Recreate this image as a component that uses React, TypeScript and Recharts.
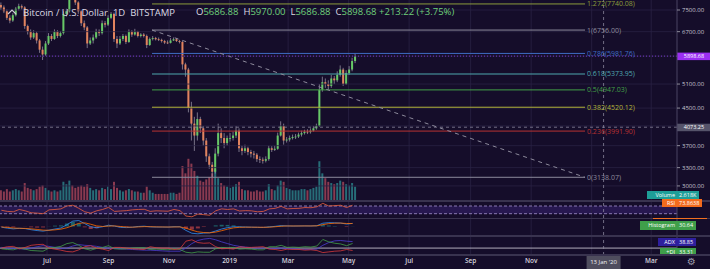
import React from 'react';
import {
  ComposedChart, Bar, Line, XAxis, YAxis, ReferenceLine, ReferenceArea, Cell
} from 'recharts';

// days are counted from 1 Jul 2018; first candle is 16 May 2018
const FIRST_DAY = -46;
const CANDLE_STEP = 3;
const IND_STEP = 6;
const DOMAIN: [number, number] = [-47.4, 635];

const firstOpen = 7700;
const closes = [
  7600, 7450, 7200, 7100, 7300, 7550, 7650, 7600, 6900, 6700,
  6500, 6650, 6400, 6100, 5950, 6300, 6550, 6450, 6700, 6550,
  6650, 7350, 7450, 8200, 8100, 7800, 7450, 7000, 6850, 6300,
  6400, 6500, 6700, 6650, 7000, 6950, 7200, 7350, 6450, 6300,
  6450, 6550, 6350, 6700, 6600, 6700, 6550, 6600, 6550, 6250,
  6450, 6480, 6440, 6420, 6380, 6330, 6320, 6400, 6440, 6380,
  6350, 5650, 5500, 4500, 4150, 3900, 4250, 4050, 3800, 3500,
  3350, 3230, 3550, 3950, 3850, 3750, 3850, 3850, 3900, 4000,
  3650, 3600, 3650, 3580, 3550, 3530, 3450, 3440, 3420, 3450,
  3650, 3620, 3640, 3900, 4100, 3800, 3820, 3850, 3870, 3880,
  3920, 3950, 3980, 3970, 4000, 4050, 4100, 4950, 5150, 5100,
  5050, 5250, 5200, 5350, 5500, 5100, 5400, 5500, 5750, 5898.68
];
const highs = [
  7800, 7680, 7520, 7300, 7380, 7620, 7750, 7720, 7650, 6950,
  6780, 6750, 6700, 6450, 6200, 6380, 6650, 6620, 6780, 6750,
  6720, 7450, 7550, 8450, 8350, 8200, 7850, 7500, 7100, 6900,
  6500, 6600, 6800, 6780, 7100, 7080, 7300, 7420, 7400, 6550,
  6550, 6620, 6600, 6780, 6750, 6800, 6730, 6650, 6650, 6600,
  6500, 6550, 6520, 6500, 6460, 6420, 6400, 6480, 6500, 6480,
  6420, 6380, 5700, 5550, 4650, 4300, 4400, 4300, 4100, 3850,
  3550, 3400, 3650, 4150, 4050, 3950, 3900, 3950, 3980, 4100,
  4050, 3700, 3720, 3680, 3620, 3600, 3560, 3500, 3480, 3500,
  3700, 3690, 3700, 3960, 4200, 4150, 3870, 3900, 3920, 3930,
  3960, 4000, 4020, 4030, 4050, 4100, 4150, 5100, 5300, 5250,
  5200, 5350, 5320, 5450, 5620, 5550, 5480, 5600, 5850, 5970
];
const lows = [
  7500, 7380, 7120, 7000, 7050, 7250, 7480, 7520, 6800, 6600,
  6420, 6450, 6300, 6000, 5780, 5900, 6250, 6380, 6420, 6480,
  6500, 6600, 7250, 7400, 7950, 7700, 7350, 6900, 6750, 6150,
  6250, 6300, 6450, 6550, 6600, 6850, 6900, 7150, 6350, 6150,
  6250, 6380, 6280, 6320, 6520, 6560, 6500, 6500, 6500, 6150,
  6220, 6400, 6400, 6380, 6330, 6280, 6280, 6300, 6380, 6350,
  6300, 5500, 5300, 4400, 3800, 3600, 3800, 3950, 3700, 3400,
  3280, 3140, 3200, 3500, 3750, 3650, 3700, 3780, 3800, 3850,
  3580, 3520, 3560, 3520, 3480, 3460, 3400, 3380, 3370, 3390,
  3420, 3580, 3600, 3620, 3880, 3720, 3760, 3780, 3820, 3830,
  3850, 3880, 3920, 3930, 3940, 3980, 4020, 4080, 4900, 5000,
  4950, 5000, 5100, 5150, 5300, 5050, 5080, 5350, 5450, 5686.88
];
const volumes = [
  8, 7, 9, 7, 8, 9, 8, 7, 14, 10,
  9, 8, 9, 11, 12, 10, 8, 7, 8, 7,
  8, 15, 13, 16, 12, 10, 11, 12, 11, 13,
  10, 8, 9, 8, 10, 9, 11, 9, 15, 10,
  8, 7, 8, 9, 8, 7, 7, 6, 6, 11,
  8, 6, 5, 5, 5, 5, 5, 6, 6, 5,
  6, 28, 22, 34, 30, 24, 20, 16, 15, 17,
  19, 22, 25, 18, 14, 12, 11, 10, 11, 13,
  15, 9, 8, 8, 7, 7, 8, 7, 7, 8,
  13, 9, 8, 12, 16, 15, 10, 9, 8, 8,
  8, 9, 9, 8, 9, 10, 11, 32, 22, 18,
  15, 14, 13, 14, 16, 15, 13, 12, 14, 11
];

const rsi = [
  48, 42, 40, 52, 45, 35, 33, 30, 50, 52,
  55, 70, 74, 58, 40, 33, 45, 52, 63, 42,
  44, 46, 50, 52, 53, 42, 45, 44, 43, 52,
  46, 18, 14, 28, 25, 22, 45, 55, 52, 55,
  44, 46, 45, 40, 42, 55, 58, 68, 55, 57,
  58, 62, 61, 66, 84, 70, 72, 74, 62, 73.86
];
const macd = [
  -50, -120, -170, -130, -150, -230, -290, -330, -260, -180,
  -110, 120, 380, 420, 200, -20, -90, -20, 90, 30,
  -60, -80, -50, 0, 20, -30, -40, -40, -45, -20,
  -20, -280, -480, -520, -470, -450, -320, -180, -80, -20,
  -30, -40, -50, -60, -70, -30, 10, 60, 40, 30,
  35, 40, 35, 55, 230, 270, 260, 240, 170, 220
];
const macdSignal = [
  -30, -70, -110, -130, -140, -170, -210, -260, -270, -240,
  -190, -90, 60, 220, 260, 160, 40, 0, 30, 40,
  0, -40, -50, -30, -10, -15, -30, -35, -40, -35,
  -30, -120, -260, -380, -430, -450, -400, -300, -190, -100,
  -60, -50, -50, -55, -60, -50, -20, 20, 35, 35,
  35, 38, 37, 45, 130, 200, 230, 240, 210, 210
];
const macdHist = [
  -20, -50, -60, 0, -10, -60, -80, -70, 10, 60,
  80, 210, 320, 200, -60, -180, -130, -20, 60, -10,
  -60, -40, 0, 30, 30, -15, -10, -5, -5, 15,
  10, -160, -220, -140, -40, 0, 80, 120, 110, 80,
  30, 10, 0, -5, -10, 20, 30, 40, 5, -5,
  0, 2, -2, 10, 100, 70, 30, 0, -40, 10
];
const adx = [
  22, 20, 19, 18, 17, 20, 24, 27, 25, 22,
  19, 20, 26, 30, 28, 27, 25, 22, 20, 19,
  18, 17, 16, 15, 14, 14, 13, 12, 11, 11,
  11, 20, 33, 42, 46, 48, 44, 38, 33, 28,
  25, 23, 21, 20, 20, 19, 19, 20, 19, 18,
  17, 16, 16, 17, 28, 36, 41, 42, 40, 38.85
];
const plusDI = [
  18, 16, 15, 20, 17, 13, 12, 11, 20, 22,
  25, 33, 36, 28, 18, 14, 19, 22, 27, 18,
  17, 18, 20, 21, 21, 16, 17, 16, 15, 18,
  16, 8, 6, 9, 8, 8, 18, 22, 20, 22,
  17, 18, 17, 15, 15, 24, 24, 28, 22, 23,
  22, 24, 23, 26, 45, 38, 34, 32, 27, 33.31
];
const minusDI = [
  20, 24, 25, 18, 22, 28, 30, 31, 20, 17,
  14, 10, 9, 15, 24, 27, 20, 17, 13, 22,
  22, 20, 18, 17, 16, 24, 21, 20, 20, 16,
  18, 40, 44, 36, 34, 35, 24, 18, 19, 17,
  24, 22, 22, 23, 24, 17, 16, 13, 17, 16,
  16, 14, 15, 13, 7, 9, 11, 12, 16, 13
];

// the 2020 label sits under the crosshair date box, so it is left out
const monthTicks = [0, 62, 123, 184, 243, 304, 365, 427, 488, 609];
const monthLabels = ['Jul', 'Sep', 'Nov', '2019', 'Mar', 'May', 'Jul', 'Sep', 'Nov', 'Mar'];
const gridDays = [0, 62, 123, 184, 243, 304, 365, 427, 488, 549, 609];
const priceTicks = [3000, 3300, 3700, 4500, 5100, 6700, 7500];
const priceGrid = [3000, 3300, 3700, 4100, 4500, 5100, 5900, 6700, 7500];

const fibLevels = [
  { ratio: '1.272', price: 7740.08, color: '#8c9c3c' },
  { ratio: '1', price: 6756.0, color: '#8d8a9c' },
  { ratio: '0.786', price: 5981.76, color: '#3e6cc2' },
  { ratio: '0.618', price: 5373.95, color: '#4fa8ae' },
  { ratio: '0.5', price: 4947.03, color: '#43a047' },
  { ratio: '0.382', price: 4520.12, color: '#b3b33a' },
  { ratio: '0.236', price: 3991.9, color: '#b83232' },
  { ratio: '0', price: 3138.07, color: '#8d8a9c' }
];
const FIB_START = 105.8;
const FIB_END = 542.3;
const CROSS_DAY = 561;
const CROSS_PRICE = 4073.25;
const LAST_PRICE = 5898.68;

const BG = '#150d2a';
const GRID = '#2a2244';
const AXIS = '#4a4462';
const UP = '#66c966';
const DOWN = '#e2835e';
const WICK = '#a59fb0';
const FONT = '"Open Sans", "DejaVu Sans", sans-serif';

const candles = closes.map((close, i) => {
  const open = i === 0 ? firstOpen : closes[i - 1];
  return {
    day: FIRST_DAY + i * CANDLE_STEP,
    open,
    close,
    high: highs[i],
    low: lows[i],
    range: [lows[i], highs[i]],
    volume: volumes[i],
    up: close >= open
  };
});

const indicators = rsi.map((v, i) => ({
  day: FIRST_DAY + i * IND_STEP,
  rsi: v,
  macd: macd[i],
  signal: macdSignal[i],
  hist: macdHist[i],
  adx: adx[i],
  plusDI: plusDI[i],
  minusDI: minusDI[i]
}));

const CandleShape = (props: any) => {
  const { x, y, width, height, payload } = props;
  if (!payload || !isFinite(y) || !isFinite(height)) return null;
  const { open, close, high, low } = payload;
  const span = Math.log(high) - Math.log(low);
  const py = (v: number) => y + (height * (Math.log(high) - Math.log(v))) / span;
  const top = py(Math.max(open, close));
  const bottom = py(Math.min(open, close));
  const cx = x + width / 2;
  return (
    <g>
      <line x1={cx} x2={cx} y1={y} y2={y + height} stroke={WICK} strokeWidth={0.7} />
      <rect x={x} y={top} width={width} height={Math.max(bottom - top, 0.8)}
        fill={payload.up ? UP : DOWN} />
    </g>
  );
};

const axisBadge = (text: string, bg: string) => (props: any) => {
  const { viewBox } = props;
  const x = viewBox.x + viewBox.width;
  const y = viewBox.y;
  return (
    <g>
      <rect x={x} y={y - 3.5} width={33} height={7.5} fill={bg} />
      <text x={x + 17} y={y + 2} textAnchor="middle" fontSize={5.5} fill="#fff"
        fontFamily={FONT}>{text}</text>
    </g>
  );
};

const dateBadge = (props: any) => {
  const { viewBox } = props;
  const y = viewBox.y + viewBox.height;
  return (
    <g>
      <rect x={viewBox.x - 17} y={y} width={34} height={14} fill="#4f4d5e" />
      <text x={viewBox.x} y={y + 8.5} textAnchor="middle" fontSize={6} fill="#f0f0f4"
        fontFamily={FONT}>13 Jan '20</text>
    </g>
  );
};

const gridX = (keyPrefix: string) =>
  gridDays.map((d) => (
    <ReferenceLine key={`${keyPrefix}-${d}`} x={d} stroke={GRID} strokeWidth={0.8} />
  ));

const crossX = (
  <ReferenceLine x={CROSS_DAY} stroke="#8a879c" strokeDasharray="3 3" strokeWidth={0.8} />
);

const hiddenX = <XAxis type="number" dataKey="day" domain={DOMAIN} allowDataOverflow hide />;

const paneAxis = (domain: [number, number]) => (
  <YAxis orientation="right" width={33} domain={domain} allowDataOverflow tick={false}
    tickLine={false} axisLine={{ stroke: AXIS }} />
);

const Badge = ({ top, left, label, value, bg, h = 8 }: any) => (
  <div style={{
    position: 'absolute', top, left,
    height: h, background: bg, color: '#fff', fontSize: 5.5, lineHeight: `${h}px`,
    display: 'flex', fontFamily: FONT, whiteSpace: 'nowrap'
  }}>
    <span style={{ width: 677 - left - 2, textAlign: 'right', paddingRight: 2 }}>{label}</span>
    <span style={{ padding: '0 3px 0 2px' }}>{value}</span>
  </div>
);

const Separator = ({ top }: { top: number }) => (
  <div style={{ position: 'absolute', left: 0, top, width: 710, height: 1.5, background: '#39334f' }} />
);

const App = () => {
  return (
    <div style={{
      position: 'absolute', left: 0, top: 0, width: 710, height: 269,
      background: BG, overflow: 'hidden', fontFamily: FONT
    }}>
      {/* volume, underneath the candles */}
      <div style={{ position: 'absolute', left: 0, top: 0 }}>
        <ComposedChart width={710} height={200} data={candles}
          margin={{ top: 0, right: 33, bottom: 0, left: 0 }}>
          {hiddenX}
          <YAxis domain={[0, 165]} hide allowDataOverflow />
          {gridX('vg')}
          <Bar dataKey="volume" barSize={2} isAnimationActive={false}>
            {candles.map((c, i) => (
              <Cell key={i} fill={c.up ? '#2c868c' : '#a8465a'} fillOpacity={0.8} />
            ))}
          </Bar>
        </ComposedChart>
      </div>

      {/* price pane */}
      <div style={{ position: 'absolute', left: 0, top: 0 }}>
        <ComposedChart width={710} height={200} data={candles}
          margin={{ top: 0, right: 0, bottom: 0, left: 0 }}>
          {hiddenX}
          <YAxis orientation="right" width={33} scale="log" domain={[2788, 7901]}
            allowDataOverflow ticks={priceTicks} interval={0}
            tickFormatter={(v: number) => v.toFixed(2)}
            tick={{ fontSize: 6, fill: '#c9c6d3', fontFamily: FONT }}
            tickSize={3} tickMargin={2} tickLine={{ stroke: '#8c8a98' }}
            axisLine={{ stroke: AXIS }} />
          {priceGrid.map((p) => (
            <ReferenceLine key={`pg-${p}`} y={p} stroke={GRID} strokeWidth={0.8} />
          ))}
          {fibLevels.map((f) => (
            <ReferenceLine key={f.ratio}
              segment={[{ x: FIB_START, y: f.price }, { x: FIB_END, y: f.price }]}
              stroke={f.color} strokeWidth={1} ifOverflow="visible"
              label={{
                value: `${f.ratio}(${f.price.toFixed(2)})`, position: 'right', offset: 2,
                fill: f.color, fontSize: 7, fontFamily: FONT
              }} />
          ))}
          <ReferenceLine
            segment={[{ x: FIB_START, y: 6756.0 }, { x: FIB_END, y: 3138.07 }]}
            stroke="#8d8a9c" strokeDasharray="4 4" strokeWidth={1} ifOverflow="visible" />
          <ReferenceLine y={CROSS_PRICE} stroke="#8a879c" strokeDasharray="3 3" strokeWidth={0.8}
            label={axisBadge(CROSS_PRICE.toFixed(2), '#55536a')} />
          {crossX}
          <Bar dataKey="range" barSize={2} shape={CandleShape} isAnimationActive={false} />
          <ReferenceLine y={LAST_PRICE} stroke="#8f3ff0" strokeDasharray="1 2" strokeWidth={0.8}
            label={axisBadge(LAST_PRICE.toFixed(2), '#9b2ff2')} />
        </ComposedChart>
      </div>

      {/* RSI pane */}
      <div style={{ position: 'absolute', left: 0, top: 201.5 }}>
        <ComposedChart width={710} height={16} data={indicators}
          margin={{ top: 0, right: 0, bottom: 0, left: 0 }}>
          {hiddenX}
          {paneAxis([7.7, 90.8])}
          <ReferenceArea y1={30} y2={70} fill="#34206a" fillOpacity={0.6} stroke="none" />
          {gridX('rg')}
          <ReferenceLine y={70} stroke="#a696d0" strokeDasharray="3 2" strokeWidth={0.8} />
          <ReferenceLine y={30} stroke="#a696d0" strokeDasharray="3 2" strokeWidth={0.8} />
          {crossX}
          <Line dataKey="rsi" stroke="#e8603c" strokeWidth={0.8} dot={false}
            isAnimationActive={false} />
        </ComposedChart>
      </div>

      {/* MACD pane */}
      <div style={{ position: 'absolute', left: 0, top: 219 }}>
        <ComposedChart width={710} height={16} data={indicators}
          margin={{ top: 0, right: 0, bottom: 0, left: 0 }}>
          {hiddenX}
          {paneAxis([-605, 530])}
          {gridX('mg')}
          {crossX}
          <Bar dataKey="hist" barSize={4} isAnimationActive={false}>
            {indicators.map((d, i) => (
              <Cell key={i} fill={d.hist >= 0 ? '#26a69a' : '#ef5350'} fillOpacity={0.55} />
            ))}
          </Bar>
          <Line dataKey="macd" stroke="#2f8ff0" strokeWidth={0.8} dot={false}
            isAnimationActive={false} />
          <Line dataKey="signal" stroke="#ff6d00" strokeWidth={0.8} dot={false}
            isAnimationActive={false} />
        </ComposedChart>
      </div>

      {/* ADX pane + time axis */}
      <div style={{ position: 'absolute', left: 0, top: 236 }}>
        <ComposedChart width={710} height={33} data={indicators}
          margin={{ top: 0, right: 0, bottom: 0, left: 0 }}>
          <XAxis type="number" dataKey="day" domain={DOMAIN} allowDataOverflow
            ticks={monthTicks} interval={0}
            tickFormatter={(d: number) => monthLabels[monthTicks.indexOf(d)]}
            height={14} tickLine={false} tickSize={0} tickMargin={3}
            axisLine={{ stroke: '#39334f', strokeWidth: 1.5 }}
            tick={{ fontSize: 6.5, fill: '#d4d2dc', fontWeight: 600, fontFamily: FONT }} />
          {paneAxis([0, 55])}
          {gridX('ag')}
          <ReferenceLine y={20} stroke="#d8d6e0" strokeWidth={0.8} />
          <ReferenceLine x={CROSS_DAY} stroke="#8a879c" strokeDasharray="3 3" strokeWidth={0.8}
            label={dateBadge} />
          <Line dataKey="adx" stroke="#4b3fd0" strokeWidth={0.8} dot={false}
            isAnimationActive={false} />
          <Line dataKey="plusDI" stroke="#43a047" strokeWidth={0.8} dot={false}
            isAnimationActive={false} />
          <Line dataKey="minusDI" stroke="#d83a3a" strokeWidth={0.8} dot={false}
            isAnimationActive={false} />
        </ComposedChart>
      </div>

      <Separator top={200} />
      <Separator top={217.5} />
      <Separator top={235} />

      {/* legend */}
      <div style={{ position: 'absolute', left: 6, top: 6, height: 12, display: 'flex',
        alignItems: 'center', fontSize: 9.5, color: '#dcdae4', whiteSpace: 'nowrap' }}>
        <svg width={12} height={10} style={{ marginRight: 5 }}>
          <polyline points="2,7 6,3 10,7" fill="none" stroke="#cfcbd8" strokeWidth={1.2} />
        </svg>
        <span>Bitcoin / U.S. Dollar&nbsp;&nbsp;1D&nbsp;&nbsp;BITSTAMP</span>
      </div>
      <div style={{ position: 'absolute', left: 196, top: 6, height: 12, lineHeight: '12px',
        fontSize: 9.5, color: '#dcdae4', whiteSpace: 'nowrap' }}>
        O<span style={{ color: '#6fd07a' }}>5686.88</span>&nbsp;
        H<span style={{ color: '#6fd07a' }}>5970.00</span>&nbsp;
        L<span style={{ color: '#6fd07a' }}>5686.88</span>&nbsp;
        C<span style={{ color: '#6fd07a' }}>5898.68</span>&nbsp;
        <span style={{ color: '#6fd07a' }}>+213.22 (+3.75%)</span>
      </div>

      {/* indicator value badges */}
      <Badge top={190.5} left={647} label="Volume" value="2.618K" bg="#1e9e98" />
      <Badge top={199.3} left={662} label="RSI" value="73.8638" bg="#f26b1d" />
      <div style={{ position: 'absolute', left: 653, top: 217.6, width: 54, height: 1.5, background: '#f07020' }} />
      <Badge top={220.5} left={640} label="Histogram" value="30.64" bg="#3f9f4a" h={9} />
      <Badge top={238.3} left={658} label="ADX" value="38.85" bg="#2e1f9e" />
      <Badge top={247.6} left={660} label="+DI" value="33.31" bg="#3f9f4a" />
      <Separator top={254.3} />
      <div style={{ position: 'absolute', left: 687, top: 255, fontSize: 10, color: '#9a98a8',
        fontFamily: '"DejaVu Sans", sans-serif', lineHeight: '14px' }}>⚙</div>
    </div>
  );
};

export default App;
